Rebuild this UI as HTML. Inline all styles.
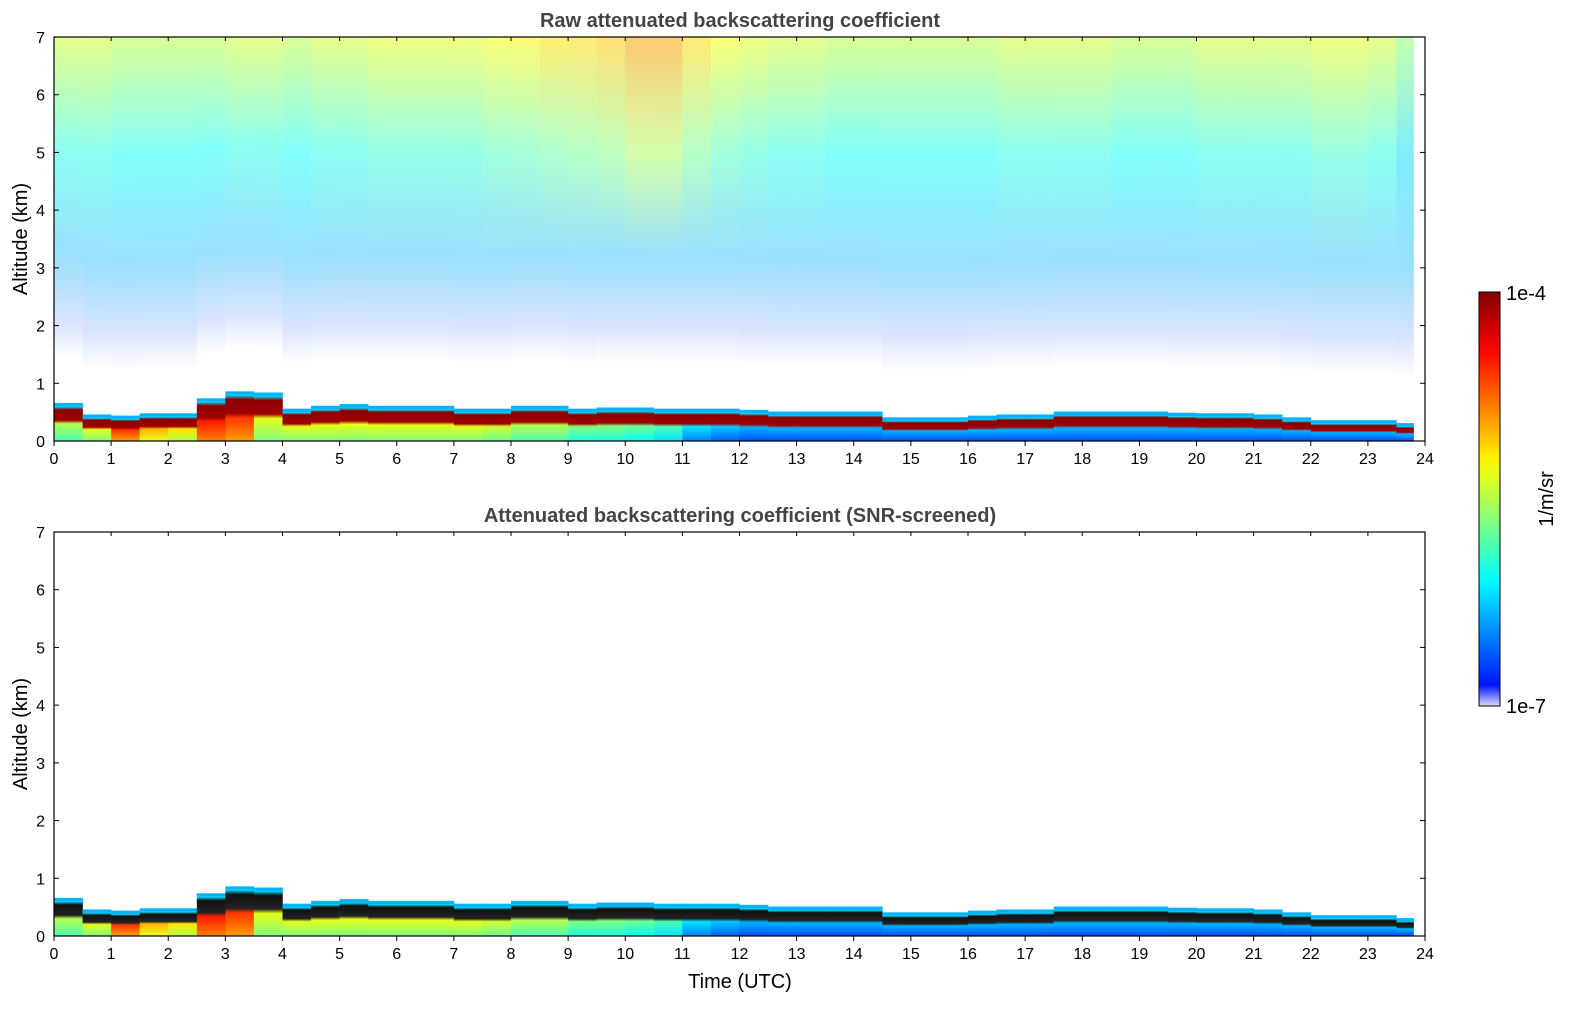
<!DOCTYPE html>
<html><head><meta charset="utf-8"><style>
body{margin:0;background:#fff;width:1595px;height:1020px;overflow:hidden;font-family:"Liberation Sans",sans-serif}
svg text{font-family:"Liberation Sans",sans-serif}
</style></head><body>
<svg id="fig" width="1595" height="1020" xmlns="http://www.w3.org/2000/svg">
<defs id="defs"></defs>
<g id="p1"></g>
<g id="p2"></g>
<g id="cb"></g>
</svg>
<script>
// half-hour time bins (UTC hours)
const hours=[];for(let i=0;i<48;i++)hours.push(i*0.5);
const blTop=[0.6,0.4,0.38,0.42,0.42,0.68,0.8,0.78,0.5,0.55,0.58,0.55,0.55,0.55,0.5,0.5,0.55,0.55,0.5,0.52,0.52,0.5,0.5,0.5,0.48,0.45,0.45,0.45,0.45,0.35,0.35,0.35,0.38,0.4,0.4,0.45,0.45,0.45,0.45,0.43,0.42,0.42,0.4,0.35,0.3,0.3,0.3,0.25];
const surface=[0.45,0.5,0.72,0.6,0.55,0.75,0.72,0.5,0.5,0.5,0.5,0.5,0.5,0.5,0.5,0.48,0.45,0.45,0.4,0.4,0.38,0.35,0.25,0.22,0.2,0.2,0.2,0.2,0.2,0.2,0.2,0.2,0.2,0.2,0.2,0.2,0.2,0.2,0.2,0.2,0.2,0.2,0.2,0.2,0.2,0.2,0.2,0.2];
const skyLevel=[0.58,0.58,0.56,0.56,0.56,0.56,0.58,0.58,0.56,0.58,0.58,0.6,0.6,0.6,0.6,0.62,0.63,0.65,0.66,0.68,0.72,0.72,0.66,0.62,0.6,0.58,0.58,0.56,0.56,0.56,0.56,0.56,0.56,0.58,0.58,0.58,0.58,0.56,0.56,0.56,0.58,0.58,0.58,0.58,0.6,0.6,0.58,0.52];
const xTicks=[0,1,2,3,4,5,6,7,8,9,10,11,12,13,14,15,16,17,18,19,20,21,22,23,24];
const yTicks=[0,1,2,3,4,5,6,7];
const tEnd=23.8;
const NS="http://www.w3.org/2000/svg";
function el(tag,attrs,parent){const e=document.createElementNS(NS,tag);for(const k in attrs)e.setAttribute(k,attrs[k]);parent.appendChild(e);return e;}
function jet(v){v=Math.max(0,Math.min(1,v));const r=Math.min(1,Math.max(0,1.5-Math.abs(4*v-3))),g=Math.min(1,Math.max(0,1.5-Math.abs(4*v-2))),b=Math.min(1,Math.max(0,1.5-Math.abs(4*v-1)));return [r*255,g*255,b*255];}
function css(c,w){w=w||0;return 'rgb('+c.map(x=>Math.round(x*(1-w)+255*w)).join(',')+')';}
const X0=54,X1=1425;
function xs(t){return X0+(X1-X0)*t/24;}
let gid=0;
function grad(stops){const id='g'+(gid++);const g=el('linearGradient',{id:id,x1:0,y1:0,x2:0,y2:1},document.getElementById('defs'));stops.forEach(s=>el('stop',{offset:s[0],'stop-color':s[1]},g));return 'url(#'+id+')';}
function panel(gp,top,title,raw,showX){
  const bot=top+404;const ys=a=>bot-(bot-top)*a/7;
  const t=el('text',{x:740,y:top-10,'text-anchor':'middle','font-size':20,'font-weight':'bold',fill:'#444'},gp);t.textContent=title;
  
  for(let i=0;i<hours.length;i++){
    const t0=hours[i],t1=Math.min(t0+0.5,tEnd);if(t1<=t0)continue;
    const x=xs(t0),w=xs(t1)-x+0.3,h=blTop[i];
    if(raw){
      const s=skyLevel[i];
      const r=el('rect',{x:x,y:ys(7),width:w,height:ys(h+0.35)-ys(7),fill:grad([[0,css(jet(s),0.45)],[0.33,css(jet(s-0.18),0.5)],[0.62,css(jet(0.3),0.6)],[0.82,css(jet(0.2),0.85)],[0.92,'#fff'],[1,'#fff']])},gp);
      
    }
    const b=el('rect',{x:x,y:ys(h),width:w,height:ys(0)-ys(h),fill:grad([[0,css(jet(0.35))],[0.1,raw?'#8b0000':'#111'],[0.4,raw?'#a00000':'#222'],[0.5,css(jet(surface[i]+0.1))],[1,css(jet(surface[i]))]])},gp);
    
    el('rect',{x:x,y:ys(h+0.06),width:w,height:ys(h)-ys(h+0.06),fill:css(jet(0.3))},gp);
  }
  const f=el('rect',{x:X0,y:top,width:X1-X0,height:bot-top,fill:'none',stroke:'#000','stroke-width':1.2},gp);
  
  xTicks.forEach(v=>{const x=xs(v);el('line',{x1:x,x2:x,y1:bot,y2:bot+5,stroke:'#000'},gp);el('line',{x1:x,x2:x,y1:top,y2:top+4,stroke:'#000'},gp);
    const l=el('text',{x:x,y:bot+23,'text-anchor':'middle','font-size':16},gp);l.textContent=v;});
  yTicks.forEach(v=>{const y=ys(v);el('line',{x1:X0,x2:X0+5,y1:y,y2:y,stroke:'#000'},gp);el('line',{x1:X1-5,x2:X1,y1:y,y2:y,stroke:'#000'},gp);
    const l=el('text',{x:X0-9,y:y+6,'text-anchor':'end','font-size':16},gp);l.textContent=v;});
  const yl=el('text',{x:0,y:0,transform:'translate(27,'+((top+bot)/2)+') rotate(-90)','text-anchor':'middle','font-size':20},gp);yl.textContent='Altitude (km)';
  
  if(showX){const xl=el('text',{x:740,y:988,'text-anchor':'middle','font-size':20},gp);xl.textContent='Time (UTC)';}
}
panel(document.getElementById('p1'),37,'Raw attenuated backscattering coefficient',true,false);
panel(document.getElementById('p2'),532,'Attenuated backscattering coefficient (SNR-screened)',false,true);
// colorbar
const cb=document.getElementById('cb');
const stops=[];for(let i=0;i<=20;i++){const v=i/20;stops.push([1-v,v<0.05?'#dcdcf8':css(jet(0.1+0.9*v))]);}
stops.reverse();
const cr=el('rect',{x:1479,y:292,width:21,height:414,fill:grad(stops),stroke:'#000','stroke-width':1},cb);

const c1=el('text',{x:1506,y:300,'font-size':20},cb);c1.textContent='1e-4';
const c2=el('text',{x:1506,y:713,'font-size':20},cb);c2.textContent='1e-7';
const c3=el('text',{x:0,y:0,transform:'translate(1553,499) rotate(-90)','text-anchor':'middle','font-size':20},cb);c3.textContent='1/m/sr';
</script>
</body></html>
